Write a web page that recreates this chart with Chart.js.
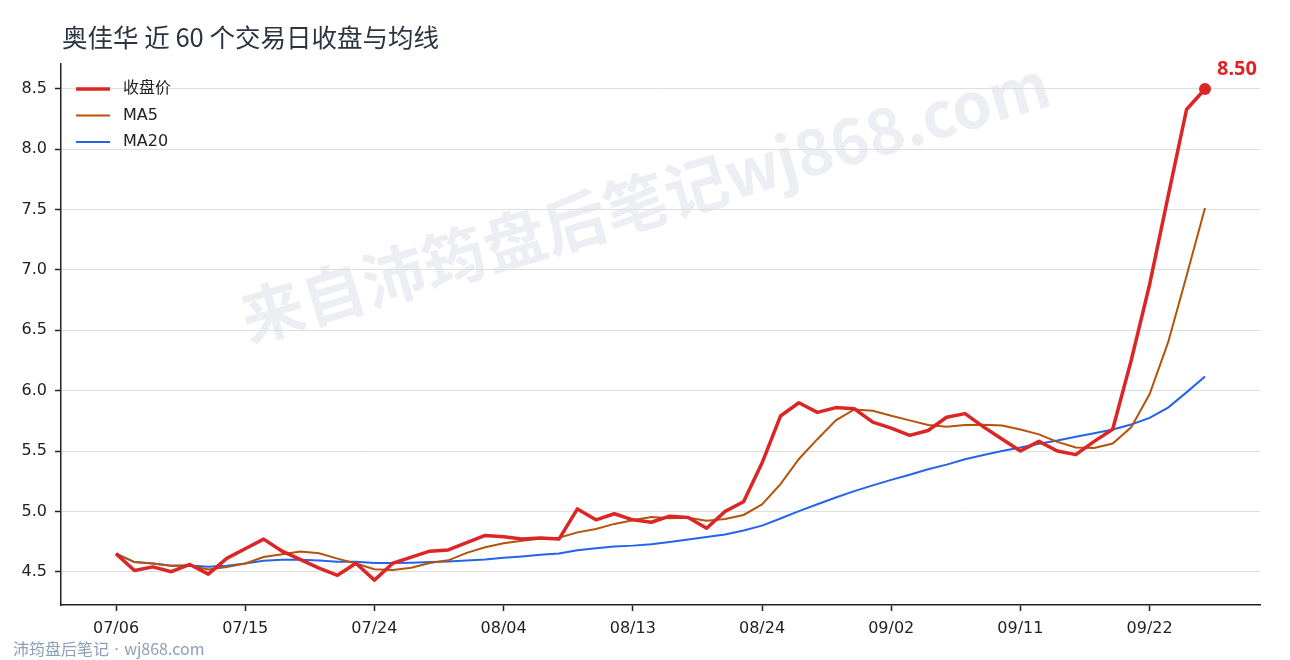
<!DOCTYPE html>
<html>
<head>
<meta charset="utf-8">
<script src="https://cdn.jsdelivr.net/npm/chart.js@4.4.1/dist/chart.umd.min.js"></script>
<style>
html,body{margin:0;padding:0;background:#fff;}
#wrap{width:1290px;height:660px;position:relative;}
</style>
</head>
<body>
<div id="wrap"><canvas id="c" width="1290" height="660"></canvas></div>
<script>
const dates = ["07/06","07/07","07/08","07/09","07/10","07/13","07/14","07/15","07/16","07/17",
"07/20","07/21","07/22","07/23","07/24","07/27","07/28","07/29","07/30","07/31",
"08/03","08/04","08/05","08/06","08/07","08/10","08/11","08/12","08/13","08/14",
"08/17","08/18","08/19","08/20","08/21","08/24","08/25","08/26","08/27","08/28",
"08/31","09/01","09/02","09/03","09/04","09/07","09/08","09/09","09/10","09/11",
"09/14","09/15","09/16","09/17","09/18","09/21","09/22","09/23","09/24","09/25"];
const closePrice = [4.65,4.51,4.54,4.50,4.56,4.48,4.61,4.69,4.77,4.67,
4.60,4.53,4.47,4.57,4.43,4.57,4.62,4.67,4.68,4.74,
4.80,4.79,4.77,4.78,4.77,5.02,4.93,4.98,4.93,4.91,
4.96,4.95,4.86,5.00,5.08,5.40,5.79,5.90,5.82,5.86,
5.85,5.74,5.69,5.63,5.67,5.78,5.81,5.70,5.60,5.50,
5.58,5.50,5.47,5.58,5.68,6.25,6.88,7.61,8.33,8.50];
const ma5 = [4.650,4.580,4.567,4.550,4.552,4.518,4.538,4.568,4.622,4.644,
4.668,4.652,4.608,4.568,4.520,4.514,4.532,4.572,4.594,4.656,
4.702,4.736,4.756,4.776,4.782,4.826,4.854,4.896,4.926,4.954,
4.942,4.946,4.922,4.936,4.970,5.058,5.226,5.434,5.598,5.754,
5.844,5.834,5.792,5.754,5.716,5.702,5.716,5.718,5.712,5.678,
5.638,5.576,5.530,5.526,5.562,5.696,5.972,6.400,6.950,7.514];
const ma20 = [4.650,4.580,4.567,4.550,4.552,4.540,4.550,4.568,4.590,4.598,
4.598,4.593,4.583,4.582,4.572,4.572,4.575,4.580,4.585,4.593,
4.601,4.615,4.626,4.640,4.651,4.678,4.694,4.708,4.716,4.728,
4.746,4.767,4.787,4.808,4.841,4.882,4.941,5.002,5.059,5.115,
5.168,5.215,5.261,5.304,5.349,5.387,5.431,5.467,5.500,5.530,
5.561,5.588,5.619,5.648,5.678,5.720,5.775,5.860,5.986,6.118];
const xTickIndex = [0,7,14,21,28,35,42,49,56];
const yTickValues = [4.5,5.0,5.5,6.0,6.5,7.0,7.5,8.0,8.5];
const seriesNames = ["收盘价","MA5","MA20"];
const titleText = "奥佳华 近 60 个交易日收盘与均线";
const watermarkText = "来自沛筠盘后笔记wj868.com";
const footerParts = ["沛筠盘后笔记"," · ","wj868.com"];

const RED="#dc2626", ORANGE="#b45309", BLUE="#2563eb";
const FONT = '"DejaVu Sans","Noto Sans CJK SC",sans-serif';
const CJK = '"Noto Sans CJK SC",sans-serif';
const toXY = arr => arr.map((v,i)=>({x:i,y:v}));
const last = closePrice.length-1;

const decor = {
  id:'decor',
  beforeDraw(chart){
    const ctx = chart.ctx;
    ctx.save();
    ctx.fillStyle='#fff';
    ctx.fillRect(0,0,chart.width,chart.height);
    ctx.translate(645,201);
    ctx.rotate(-16.5*Math.PI/180);
    ctx.font = 'bold 63px ' + CJK;
    ctx.fillStyle = '#eceef3';
    ctx.textAlign='center';
    ctx.textBaseline='middle';
    ctx.fillText(watermarkText,0,0);
    ctx.restore();
  },
  afterDraw(chart){
    const ctx = chart.ctx;
    ctx.save();
    ctx.textAlign='left';
    ctx.textBaseline='middle';
    // title
    ctx.font = '25.5px ' + CJK;
    ctx.fillStyle = '#2b3441';
    ctx.fillText(titleText,62,37);
    // footer
    ctx.fillStyle = '#8d9dba';
    ctx.textBaseline='alphabetic';
    let fx = 13;
    footerParts.forEach((t,i)=>{
      ctx.font = (i===1 ? '16px "DejaVu Sans",sans-serif' : '16px ' + CJK);
      ctx.fillText(t,fx,655);
      fx += ctx.measureText(t).width;
    });
    ctx.textBaseline='middle';
    // legend
    const items = [[RED,3.5],[ORANGE,2],[BLUE,2]];
    ctx.font = '16px ' + FONT;
    items.forEach((it,i)=>{
      const y = 89 + i*26.5;
      ctx.strokeStyle = it[0];
      ctx.lineWidth = it[1];
      ctx.beginPath();
      ctx.moveTo(76,y);ctx.lineTo(110,y);ctx.stroke();
      ctx.fillStyle='#222';
      ctx.fillText(seriesNames[i],123,y);
    });
    // last value label
    const xs = chart.scales.x, ys = chart.scales.y;
    const px = xs.getPixelForValue(last), py = ys.getPixelForValue(closePrice[last]);
    ctx.font = 'bold 20px "Noto Sans",sans-serif';
    ctx.fillStyle = RED;
    ctx.fillText(closePrice[last].toFixed(2), px+12, py-20);
    ctx.restore();
  }
};

new Chart(document.getElementById('c'),{
  type:'line',
  data:{datasets:[
    {label:seriesNames[0],data:toXY(closePrice),borderColor:RED,backgroundColor:RED,borderWidth:3.5,
     pointRadius:c=>c.dataIndex===last?6:0,pointBackgroundColor:RED,pointBorderWidth:0,tension:0,borderJoinStyle:'round'},
    {label:seriesNames[1],data:toXY(ma5),borderColor:ORANGE,borderWidth:2,pointRadius:0,tension:0},
    {label:seriesNames[2],data:toXY(ma20),borderColor:BLUE,borderWidth:2,pointRadius:0,tension:0}
  ]},
  options:{
    responsive:false,animation:false,devicePixelRatio:1,
    layout:{padding:{top:64,right:30,left:0,bottom:0}},
    plugins:{legend:{display:false},tooltip:{enabled:false},title:{display:false}},
    scales:{
      x:{type:'linear',min:-2.98,max:61.98,
        afterBuildTicks:s=>{s.ticks = xTickIndex.map(v=>({value:v}));},
        afterFit:s=>{s.height=55;},
        ticks:{autoSkip:false,maxRotation:0,padding:8,color:'#222',font:{family:FONT,size:16},
          callback:v=>dates[v]},
        grid:{drawOnChartArea:false,drawTicks:true,tickLength:6,tickColor:'#222',tickWidth:1.5},
        border:{display:true,color:'#222',width:1.5}
      },
      y:{type:'linear',min:4.224,max:8.707,
        afterBuildTicks:s=>{s.ticks = yTickValues.map(v=>({value:v}));},
        afterFit:s=>{s.width=61;},
        ticks:{padding:8,color:'#222',font:{family:FONT,size:16},callback:v=>v.toFixed(1)},
        grid:{color:'#dedede',lineWidth:1,borderDash:[4,3],drawTicks:true,tickLength:6,tickColor:'#222',tickWidth:1.5,tickBorderDash:[]},
        border:{display:true,color:'#222',width:1.5}
      }
    }
  },
  plugins:[decor]
});
</script>
</body>
</html>
